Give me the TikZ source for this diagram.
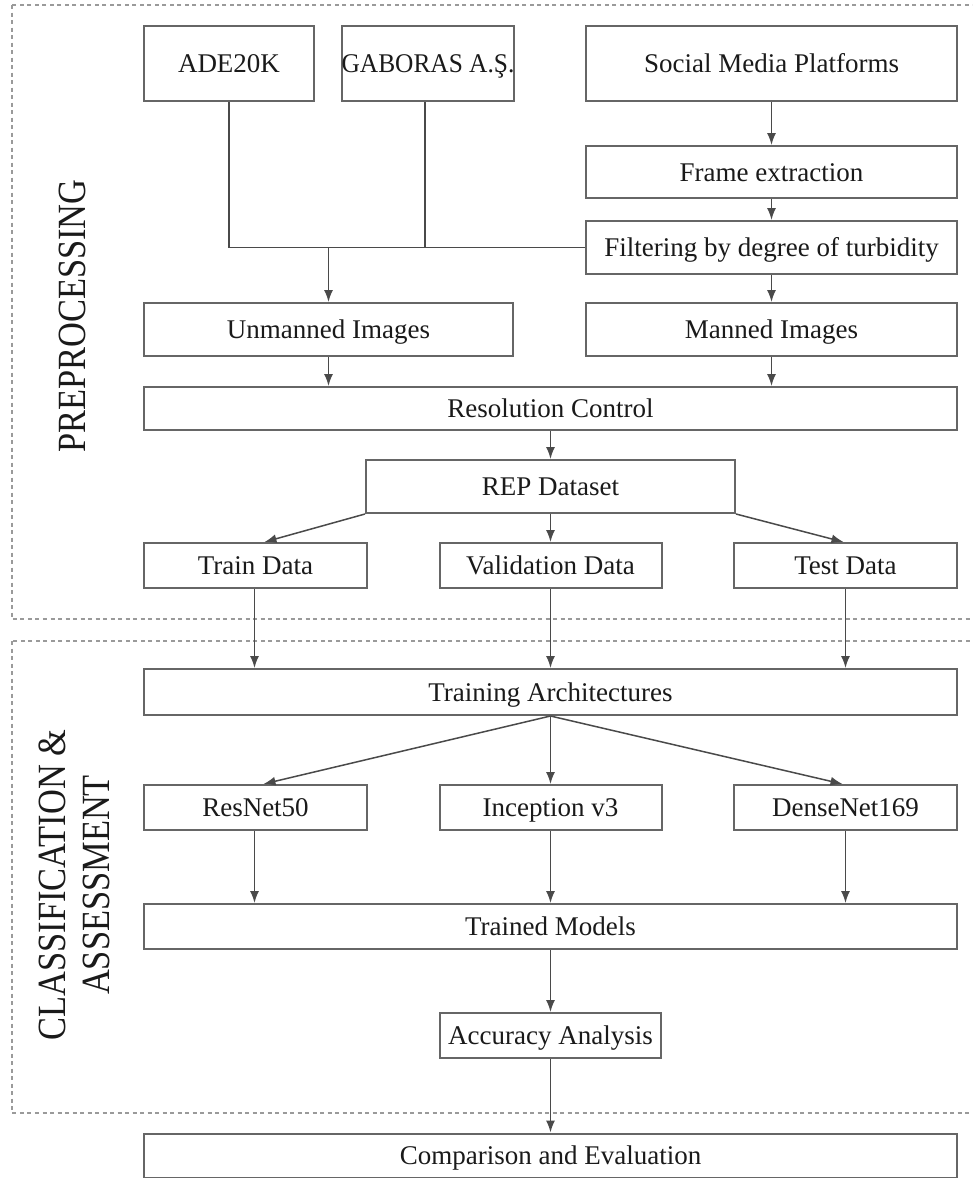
\documentclass[tikz,border=0pt]{standalone}
\usepackage{fontspec}
\setmainfont{Liberation Serif}
\usepackage{graphicx}
\usetikzlibrary{arrows.meta}
\definecolor{boxline}{HTML}{666666}
\definecolor{conn}{HTML}{4A4A4A}
\definecolor{dashc}{HTML}{9A9A9A}
\definecolor{txt}{HTML}{1A1A1A}
\tikzset{
  box/.style={draw=boxline, line width=2pt, inner sep=0pt, text=txt,
    text height=24pt, text depth=6pt,
    font=\fontsize{27}{30}\selectfont, fill=white},
  plain/.style={draw=conn, line width=1.5pt},
  arr/.style={draw=conn, line width=1.5pt, -{Latex[length=12pt,width=9pt]}},
  section/.style={draw=dashc, line width=1.6pt, dash pattern=on 4pt off 3.5pt},
  sectlabel/.style={rotate=90, text=txt, align=center,
    font=\fontsize{40}{44}\selectfont, inner sep=0pt}
}
\begin{document}
\begin{tikzpicture}[x=1pt,y=-1pt]
\useasboundingbox (0,0) rectangle (972,1178);
\fill[white] (0,0) rectangle (972,1178);
\begin{scope}
\clip (0,0) rectangle (972,1178);
\draw[section] (12,5) rectangle (990,619);
\draw[section] (12,641) rectangle (990,1113);
\end{scope}

\node[sectlabel] (lblpre) at (72,316) {\scalebox{0.86}[1]{PREPROCESSING}};
\node[sectlabel] (lblcls) at (74,885) {\scalebox{0.86}[1]{CLASSIFICATION \&}\\\scalebox{0.86}[1]{ASSESSMENT}};

% nodes
\node[box, minimum width=170pt, minimum height=75pt] (ade) at (229,63.5) {ADE20K};
\node[box, minimum width=170pt, minimum height=75pt] (gab) at (428,63.5) {\scalebox{0.94}[1]{GABORAS A.Ş.}};
\node[box, minimum width=371pt, minimum height=75pt] (social) at (771.5,63.5) {Social Media Platforms};
\node[box, minimum width=371pt, minimum height=52pt] (frame) at (771.5,172) {Frame extraction};
\node[box, minimum width=371pt, minimum height=53pt] (filter) at (771.5,247.5) {Filtering by degree of turbidity};
\node[box, minimum width=369pt, minimum height=53pt] (unmanned) at (328.5,329.5) {Unmanned Images};
\node[box, minimum width=371pt, minimum height=53pt] (manned) at (771.5,329.5) {Manned Images};
\node[box, minimum width=813pt, minimum height=43pt] (resol) at (550.5,408.5) {Resolution Control};
\node[box, minimum width=369pt, minimum height=53pt] (rep) at (550.5,486.5) {REP Dataset};
\node[box, minimum width=223pt, minimum height=45pt] (train) at (255.5,565.5) {Train Data};
\node[box, minimum width=222pt, minimum height=45pt] (valid) at (550.5,565.5) {Validation Data};
\node[box, minimum width=223pt, minimum height=45pt] (test) at (845.5,565.5) {Test Data};
\node[box, minimum width=813pt, minimum height=46pt] (arch) at (550.5,692) {Training Architectures};
\node[box, minimum width=223pt, minimum height=45pt] (resnet) at (255.5,807.5) {ResNet50};
\node[box, minimum width=222pt, minimum height=45pt] (incep) at (550.5,807.5) {Inception v3};
\node[box, minimum width=223pt, minimum height=45pt] (dense) at (845.5,807.5) {DenseNet169};
\node[box, minimum width=813pt, minimum height=45pt] (trained) at (550.5,926.5) {Trained Models};
\node[box, minimum width=221pt, minimum height=45pt] (acc) at (550.5,1035.5) {Accuracy Analysis};
\node[box, minimum width=813pt, minimum height=44pt] (comp) at (550.5,1155.5) {Comparison and Evaluation};

% connectors
\draw[plain] (ade.south) |- (filter.west);
\draw[plain] ([xshift=-3pt]gab.south) -- ([xshift=-3pt]gab.south |- filter.west);
\draw[arr] (unmanned.north |- filter.west) -- (unmanned.north);
\draw[arr] (social) -- (frame);
\draw[arr] (frame) -- (filter);
\draw[arr] (filter) -- (manned);
\draw[arr] (unmanned.south) -- (unmanned.south |- resol.north);
\draw[arr] (manned.south) -- (manned.south |- resol.north);
\draw[arr] (resol.south) -- (rep.north);
\draw[arr] (rep.south west) -- ([xshift=9pt]train.north);
\draw[arr] (rep.south) -- (valid.north);
\draw[arr] (rep.south east) -- ([xshift=-2pt]test.north);
\draw[arr] ([xshift=-1pt]train.south) -- ([xshift=-1pt]train.south |- arch.north);
\draw[arr] (valid.south) -- (valid.south |- arch.north);
\draw[arr] (test.south) -- (test.south |- arch.north);
\draw[arr] (arch.south) -- ([xshift=8pt]resnet.north);
\draw[arr] (arch.south) -- (incep.north);
\draw[arr] (arch.south) -- ([xshift=-3pt]dense.north);
\draw[arr] ([xshift=-1pt]resnet.south) -- ([xshift=-1pt]resnet.south |- trained.north);
\draw[arr] (incep.south) -- (incep.south |- trained.north);
\draw[arr] (dense.south) -- (dense.south |- trained.north);
\draw[arr] (trained.south) -- (acc.north);
\draw[arr] (acc.south) -- (comp.north);
\end{tikzpicture}
\end{document}
